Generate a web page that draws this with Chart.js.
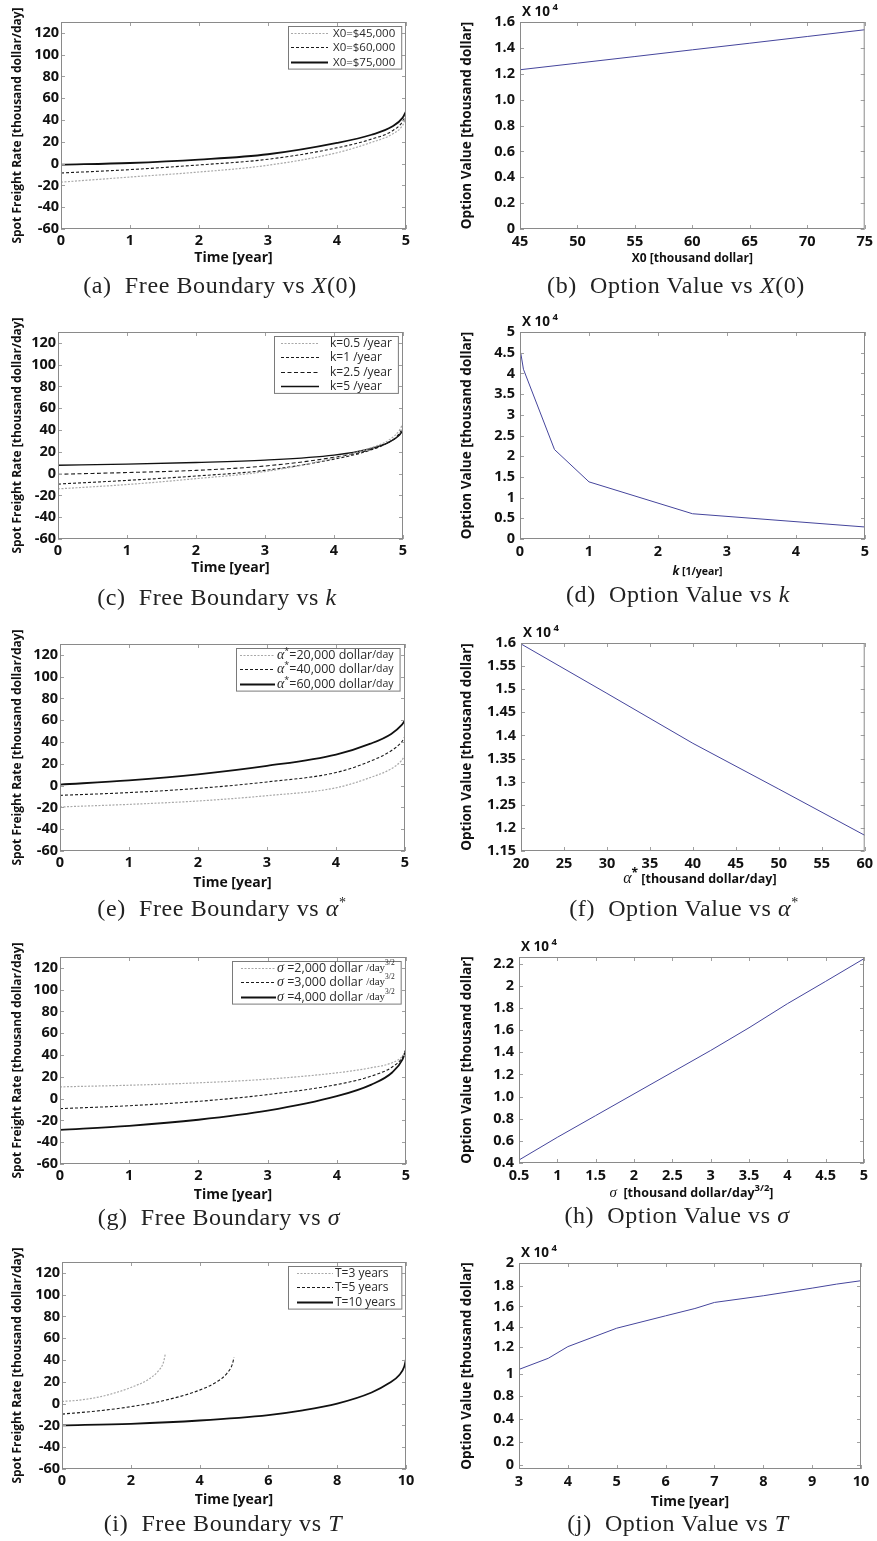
<!DOCTYPE html>
<html>
<head>
<meta charset="utf-8">
<script src="https://cdn.jsdelivr.net/npm/chart.js@4.4.0/dist/chart.umd.min.js"></script>
<style>
  body { margin: 0; background: #fff; width: 877px; height: 1541px; position: relative; overflow: hidden; }
  canvas { position: absolute; }
  .cap { position: absolute; font-family: "Liberation Serif", "DejaVu Serif", serif; font-size: 24px; letter-spacing: 0.6px; white-space: nowrap; transform: translate(-50%, -50%); color: #222; }
  .cap i { font-style: italic; }
  .cap sup { font-size: 14px; }
</style>
</head>
<body>
<script>
// ---------- data ----------
// (a) free boundary vs X(0)
const timeA = [0, 1, 2, 3, 4, 4.5, 4.8, 4.95, 5];
const fbX45 = [-17, -12.3, -7.7, -1.5, 10, 19.5, 27, 35, 42];
const fbX60 = [-8.6, -5.5, -1.2, 4, 14.5, 22.5, 30, 38.5, 45];
const fbX75 = [-1, 0.6, 3.7, 8.6, 19, 26.5, 34, 42, 48];

// (b) option value vs X(0)   (x 10^4)
const x0Vals = [45, 50, 55, 60, 65, 70, 75];
const optX0 = [1.231, 1.282, 1.333, 1.385, 1.436, 1.488, 1.54];

// (c) free boundary vs k
const timeC = [0, 1, 2, 3, 4, 4.5, 4.8, 4.95, 5];
const fbK05 = [-14, -10, -4.6, 1.9, 14.2, 23, 31, 40, 46];
const fbK1 = [-9.6, -6.2, -2.2, 3, 13.3, 21, 29, 37, 43];
const fbK25 = [-0.6, 1, 3, 7, 15, 21.5, 29, 36, 41];
const fbK5 = [7.7, 8.7, 10.2, 12.4, 17, 22.5, 29, 35.5, 40];

// (d) option value vs k
const kVals = [0.01, 0.05, 0.5, 1, 2.5, 5];
const optK = [4.5, 4.1, 2.16, 1.38, 0.61, 0.29];

// (e) free boundary vs alpha*
const timeE = [0, 1, 2, 3, 4, 4.5, 4.8, 4.95, 5];
const fbA20 = [-19.6, -17.2, -14.1, -9.2, -2, 7.5, 15.5, 23, 28];
const fbA40 = [-8.9, -6.4, -2.5, 3.4, 12, 22.5, 32, 40, 45];
const fbA60 = [0.9, 4.9, 10.4, 18.1, 28.5, 38.5, 47.5, 55.5, 60];

// (f) option value vs alpha*
const alphaVals = [20, 30, 40, 50, 60];
const optAlpha = [1.598, 1.491, 1.383, 1.284, 1.184];

// (g) free boundary vs sigma
const timeG = [0, 1, 2, 3, 4, 4.5, 4.8, 4.95, 5];
const fbS2 = [10.8, 12.3, 14.5, 17.9, 23.7, 28.4, 33, 39, 44];
const fbS3 = [-9.2, -6.5, -2.5, 3.7, 12.9, 20.7, 29, 38, 45];
const fbS4 = [-28.7, -25, -19.4, -11.1, 2.2, 12.9, 24, 36, 45];

// (h) option value vs sigma
const sigmaVals = [0.5, 1, 1.5, 2, 2.5, 3, 3.5, 4, 4.5, 5];
const optSigma = [0.427, 0.632, 0.828, 1.024, 1.22, 1.416, 1.621, 1.838, 2.04, 2.245];

// (i) free boundary vs T
const timeT3 = [0, 0.5, 1, 1.5, 2, 2.5, 2.8, 2.95, 3];
const fbT3 = [2, 3.2, 5.6, 9.5, 14.8, 22, 30, 38, 45];
const timeT5 = [0, 1, 2, 3, 4, 4.5, 4.8, 4.95, 5];
const fbT5 = [-9.6, -6.8, -2.8, 3.1, 12.4, 20, 28, 36, 42.5];
const timeT10 = [0, 2, 4, 6, 7, 8, 9, 9.5, 9.8, 9.95, 10];
const fbT10 = [-20, -18.5, -15.5, -10.5, -6.2, 0, 10.2, 18.6, 26, 34, 41];

// (j) option value vs T
const tVals = [3, 3.6, 4, 5, 6, 6.6, 7, 8, 9, 9.5, 10];
const optT = [0.967, 1.075, 1.188, 1.367, 1.487, 1.558, 1.617, 1.682, 1.756, 1.795, 1.828];

// ---------- tick values and labels ----------
const fbYTicks = [-60, -40, -20, 0, 20, 40, 60, 80, 100, 120];
const fbXTicks = [0, 1, 2, 3, 4, 5];
const tXTicks = [0, 2, 4, 6, 8, 10];
const bYTicks = [0, 0.2, 0.4, 0.6, 0.8, 1.0, 1.2, 1.4, 1.6];
const bYLabels = ['0', '0.2', '0.4', '0.6', '0.8', '1.0', '1.2', '1.4', '1.6'];
const bXTicks = [45, 50, 55, 60, 65, 70, 75];
const dYTicks = [0, 0.5, 1, 1.5, 2, 2.5, 3, 3.5, 4, 4.5, 5];
const dXTicks = [0, 1, 2, 3, 4, 5];
const fYTicks = [1.15, 1.2, 1.25, 1.3, 1.35, 1.4, 1.45, 1.5, 1.55, 1.6];
const fYLabels = ['1.15', '1.2', '1.25', '1.3', '1.35', '1.4', '1.45', '1.5', '1.55', '1.6'];
const fXTicks = [20, 25, 30, 35, 40, 45, 50, 55, 60];
const hYTicks = [0.4, 0.6, 0.8, 1.0, 1.2, 1.4, 1.6, 1.8, 2.0, 2.2];
const hYLabels = ['0.4', '0.6', '0.8', '1.0', '1.2', '1.4', '1.6', '1.8', '2', '2.2'];
const hXTicks = [0.5, 1, 1.5, 2, 2.5, 3, 3.5, 4, 4.5, 5];
const jYTicks = [0.042, 0.263, 0.49, 0.711, 0.922, 1.182, 1.383, 1.578, 1.779, 2.0];
const jYLabels = ['0', '0.2', '0.4', '0.8', '1', '1.2', '1.4', '1.6', '1.8', '2'];
const jXTicks = [3, 4, 5, 6, 7, 8, 9, 10];

// ---------- styles ----------
const SANS = '"Open Sans", "Noto Sans", sans-serif';
const SERIF = '"Liberation Serif", "DejaVu Serif", serif';
const dotted = { borderColor: '#a9a9a9', borderWidth: 1.2, borderDash: [2, 1.5] };
const dashed = { borderColor: '#1a1a1a', borderWidth: 1.1, borderDash: [3, 2] };
const dashedLong = { borderColor: '#1a1a1a', borderWidth: 1.1, borderDash: [4, 2.5] };
const solid = { borderColor: '#111', borderWidth: 1.8, borderDash: [] };
const solidThin = { borderColor: '#111', borderWidth: 1.4, borderDash: [] };
const blue = { borderColor: '#45459c', borderWidth: 1, borderDash: [] };

function series(xs, ys, style, smooth) {
  return Object.assign({
    data: xs.map((x, i) => ({ x: x, y: ys[i] })),
    fill: false,
    pointRadius: 0,
    tension: smooth ? 0.4 : 0,
    cubicInterpolationMode: smooth ? 'monotone' : 'default'
  }, style);
}

function plain(txt, size) {
  return [{ t: txt, f: (size || 11.5) + 'px ' + SANS }];
}

function richWidth(ctx, segs) {
  let w = 0;
  segs.forEach(s => { ctx.font = s.f; w += ctx.measureText(s.t).width; });
  return w;
}
function drawRich(ctx, segs, x, y) {
  segs.forEach(s => {
    ctx.font = s.f;
    ctx.fillText(s.t, x, y + (s.dy || 0));
    x += ctx.measureText(s.t).width;
  });
}

// frame, inward ticks, x10^4 note, rich titles and the boxed legend
const framePlugin = {
  id: 'frame',
  afterDraw(chart, args, o) {
    const ctx = chart.ctx, a = chart.chartArea;
    const xs = chart.scales.x, ys = chart.scales.y;
    ctx.save();
    ctx.strokeStyle = '#a0a0a0';
    ctx.lineWidth = 1;
    ctx.beginPath();
    xs.ticks.forEach(t => {
      const p = Math.round(xs.getPixelForValue(t.value)) + 0.5;
      ctx.moveTo(p, a.bottom); ctx.lineTo(p, a.bottom - 4);
      ctx.moveTo(p, a.top); ctx.lineTo(p, a.top + 4);
    });
    ys.ticks.forEach(t => {
      const p = Math.round(ys.getPixelForValue(t.value)) + 0.5;
      ctx.moveTo(a.left, p); ctx.lineTo(a.left + 4, p);
      ctx.moveTo(a.right, p); ctx.lineTo(a.right - 4, p);
    });
    ctx.stroke();
    ctx.strokeStyle = '#8a8a8a';
    ctx.strokeRect(a.left + 0.5, a.top + 0.5, a.right - a.left - 1, a.bottom - a.top - 1);

    ctx.fillStyle = '#111';
    ctx.textBaseline = 'alphabetic';
    if (o.exponent) {
      drawRich(ctx, [
        { t: 'X 10', f: 'bold 13.5px ' + SANS },
        { t: ' 4', f: 'bold 9.5px ' + SANS, dy: -6 }
      ], a.left + 2, a.top - 6);
    }
    if (o.richTitle) {
      const w = richWidth(ctx, o.richTitle.segs);
      ctx.textBaseline = 'middle';
      drawRich(ctx, o.richTitle.segs, (a.left + a.right) / 2 - w / 2 + (o.richTitle.shift || 0), a.bottom + o.richTitle.dy);
    }
    if (o.legend) {
      const L = o.legend, dss = chart.data.datasets;
      const tw = Math.max.apply(null, L.labels.map(s => richWidth(ctx, s)));
      const rowH = 14.3;
      const w = L.padL + L.sample + L.gap + tw + 6;
      const h = 14 + (dss.length - 1) * rowH;
      const x0 = Math.round(a.right - 5 - w), y0 = a.top + 4;
      ctx.fillStyle = '#fff';
      ctx.fillRect(x0, y0, w, h);
      ctx.strokeStyle = '#7a7a7a';
      ctx.lineWidth = 1;
      ctx.strokeRect(x0 + 0.5, y0 + 0.5, w, h);
      dss.forEach((ds, i) => {
        const cy = Math.round(y0 + 7 + i * rowH) + 0.5;
        ctx.setLineDash(ds.borderDash || []);
        ctx.strokeStyle = ds.borderColor;
        ctx.lineWidth = ds.borderWidth;
        ctx.beginPath();
        ctx.moveTo(x0 + L.padL, cy);
        ctx.lineTo(x0 + L.padL + L.sample, cy);
        ctx.stroke();
        ctx.setLineDash([]);
        ctx.fillStyle = '#2a2a2a';
        ctx.textBaseline = 'middle';
        drawRich(ctx, L.labels[i], x0 + L.padL + L.sample + L.gap, cy);
      });
    }
    ctx.restore();
  }
};

// ---------- one panel = one chart ----------
function panel(box, area, cfg) {
  const cv = document.createElement('canvas');
  cv.width = box.w; cv.height = box.h;
  cv.style.left = box.x + 'px'; cv.style.top = box.y + 'px';
  document.body.appendChild(cv);
  const bottomH = box.y + box.h - area.b;
  const tickFont = { family: SANS, size: 14.5, weight: 'bold' };

  let xTitle = { display: false };
  if (cfg.xTitle) {
    const lh = cfg.xTitle.size * 1.2;
    xTitle = {
      display: true, text: cfg.xTitle.text, color: '#111',
      font: { family: SANS, size: cfg.xTitle.size, weight: 'bold' },
      padding: { top: 0, bottom: bottomH - cfg.xTitle.dy - lh / 2 }
    };
  }
  const ylh = cfg.yTitle.size * 1.2;
  const yTitle = {
    display: true, text: cfg.yTitle.text, color: '#111',
    font: { family: SANS, size: cfg.yTitle.size, weight: 'bold' },
    padding: { top: cfg.yTitle.cx - ylh / 2, bottom: 0 }
  };

  new Chart(cv, {
    type: 'line',
    data: { datasets: cfg.datasets },
    options: {
      responsive: false,
      animation: false,
      events: [],
      layout: { padding: { left: 0, top: area.t - box.y, right: box.x + box.w - area.r, bottom: 0 } },
      plugins: {
        legend: { display: false },
        tooltip: { enabled: false },
        frame: cfg.frame || {}
      },
      scales: {
        x: {
          type: 'linear', min: cfg.xMin, max: cfg.xMax,
          afterFit: s => { s.height = bottomH; },
          afterBuildTicks: s => { s.ticks = cfg.xTicks.map(v => ({ value: v })); },
          ticks: {
            autoSkip: false, maxRotation: 0, padding: cfg.xPad, color: '#111', font: tickFont,
            callback: (v, i) => cfg.xLabels ? cfg.xLabels[i] : String(v)
          },
          grid: { display: false, drawTicks: false },
          border: { display: false },
          title: xTitle
        },
        y: {
          type: 'linear', min: cfg.yMin, max: cfg.yMax,
          afterFit: s => { s.width = area.l - box.x; },
          afterBuildTicks: s => { s.ticks = cfg.yTicks.map(v => ({ value: v })); },
          ticks: {
            autoSkip: false, padding: cfg.yPad, color: '#111', font: tickFont,
            callback: (v, i) => cfg.yLabels ? cfg.yLabels[i] : String(v)
          },
          grid: { display: false, drawTicks: false },
          border: { display: false },
          title: yTitle
        }
      }
    },
    plugins: [framePlugin]
  });
}

function caption(html, x, y) {
  const d = document.createElement('div');
  d.className = 'cap';
  d.innerHTML = html;
  d.style.left = x + 'px';
  d.style.top = y + 'px';
  document.body.appendChild(d);
}

const fbYTitle = { text: 'Spot Freight Rate [thousand dollar/day]', size: 12, cx: 18 };
const ovYTitle = { text: 'Option Value [thousand dollar]', size: 13.5, cx: 27 };
const timeTitle = dy => ({ text: 'Time [year]', size: 14, dy: dy });

function leftPanel(rowY, area, datasets, legend, xTicks, xMax, titleDy) {
  panel({ x: 0, y: rowY, w: 420, h: area.b + 45 - rowY }, area, {
    datasets: datasets, xMin: 0, xMax: xMax, yMin: -60, yMax: 130,
    xTicks: xTicks, yTicks: fbYTicks, xPad: 3, yPad: 2,
    xTitle: timeTitle(titleDy), yTitle: fbYTitle,
    frame: { legend: legend }
  });
}
function rightPanel(rowY, area, cfg) {
  panel({ x: 440, y: rowY, w: 437, h: area.b + 45 - rowY }, area, Object.assign({
    xPad: 4, yPad: 5, yTitle: ovYTitle
  }, cfg));
}

// (a)
leftPanel(0, { l: 61, t: 22, r: 406, b: 229 }, [
  series(timeA, fbX45, dotted, true),
  series(timeA, fbX60, dashed, true),
  series(timeA, fbX75, solid, true)
], { padL: 3, sample: 37, gap: 5, labels: [plain('X0=$45,000'), plain('X0=$60,000'), plain('X0=$75,000')] },
fbXTicks, 5, 29);

// (b)
rightPanel(0, { l: 520, t: 22, r: 865, b: 229 }, {
  datasets: [series(x0Vals, optX0, blue, false)],
  xMin: 45, xMax: 75, yMin: 0, yMax: 1.6,
  xTicks: bXTicks, yTicks: bYTicks, yLabels: bYLabels,
  xTitle: { text: 'X0 [thousand dollar]', size: 12, dy: 30 },
  frame: { exponent: true }
});

// (c)
leftPanel(305, { l: 58, t: 332, r: 403, b: 539 }, [
  series(timeC, fbK05, dotted, true),
  series(timeC, fbK1, dashed, true),
  series(timeC, fbK25, dashedLong, true),
  series(timeC, fbK5, solidThin, true)
], { padL: 7, sample: 38, gap: 11, labels: [plain('k=0.5 /year', 12), plain('k=1 /year', 12), plain('k=2.5 /year', 12), plain('k=5 /year', 12)] },
fbXTicks, 5, 29);

// (d)
rightPanel(305, { l: 520, t: 332, r: 865, b: 539 }, {
  datasets: [series(kVals, optK, blue, false)],
  xMin: 0, xMax: 5, yMin: 0, yMax: 5,
  xTicks: dXTicks, yTicks: dYTicks,
  frame: {
    exponent: true,
    richTitle: { dy: 33, shift: 5, segs: [
      { t: 'k', f: 'italic bold 12px ' + SANS },
      { t: ' [1/year]', f: 'bold 10.5px ' + SANS }
    ] }
  }
});

// (e)
const alphaLabel = v => [
  { t: 'α', f: 'italic 14px ' + SERIF },
  { t: '*', f: '9px ' + SANS, dy: -4 },
  { t: '=' + v + ' dollar', f: '12.5px ' + SANS },
  { t: '/day', f: '10.5px ' + SANS }
];
leftPanel(615, { l: 60, t: 644, r: 405, b: 851 }, [
  series(timeE, fbA20, dotted, true),
  series(timeE, fbA40, dashed, true),
  series(timeE, fbA60, solid, true)
], { padL: 4, sample: 35, gap: 2, labels: [alphaLabel('20,000'), alphaLabel('40,000'), alphaLabel('60,000')] },
fbXTicks, 5, 32);

// (f)
rightPanel(615, { l: 521, t: 643, r: 865, b: 851 }, {
  datasets: [series(alphaVals, optAlpha, blue, false)],
  xMin: 20, xMax: 60, yMin: 1.15, yMax: 1.6,
  xTicks: fXTicks, yTicks: fYTicks, yLabels: fYLabels,
  frame: {
    exponent: true,
    richTitle: { dy: 28, shift: 7, segs: [
      { t: 'α', f: 'italic 16px ' + SERIF },
      { t: '*', f: 'bold 12px ' + SANS, dy: -5 },
      { t: ' [thousand dollar/day]', f: 'bold 12.5px ' + SANS }
    ] }
  }
});

// (g)
const sigmaLabel = v => [
  { t: 'σ', f: 'italic 14px ' + SERIF },
  { t: ' =' + v + ' dollar ', f: '12.5px ' + SANS },
  { t: '/day', f: '11px ' + SERIF },
  { t: '3/2', f: '7.5px ' + SERIF, dy: -5 }
];
leftPanel(925, { l: 60, t: 957, r: 406, b: 1164 }, [
  series(timeG, fbS2, dotted, true),
  series(timeG, fbS3, dashed, true),
  series(timeG, fbS4, solid, true)
], { padL: 9, sample: 35, gap: 1, labels: [sigmaLabel('2,000'), sigmaLabel('3,000'), sigmaLabel('4,000')] },
fbXTicks, 5, 31);

// (h)
rightPanel(925, { l: 519, t: 957, r: 864, b: 1163 }, {
  datasets: [series(sigmaVals, optSigma, blue, false)],
  xMin: 0.5, xMax: 5, yMin: 0.4, yMax: 2.26,
  xTicks: hXTicks, yTicks: hYTicks, yLabels: hYLabels,
  frame: {
    exponent: true,
    richTitle: { dy: 30, shift: 0, segs: [
      { t: 'σ', f: 'italic 15px ' + SERIF },
      { t: '  [thousand dollar/day', f: 'bold 12.5px ' + SANS },
      { t: '3/2', f: 'bold 9.5px ' + SANS, dy: -5 },
      { t: ']', f: 'bold 12.5px ' + SANS }
    ] }
  }
});

// (i)
leftPanel(1235, { l: 62, t: 1262, r: 406, b: 1469 }, [
  series(timeT3, fbT3, dotted, true),
  series(timeT5, fbT5, dashed, true),
  series(timeT10, fbT10, solid, true)
], { padL: 9, sample: 36, gap: 2, labels: [plain('T=3 years', 12), plain('T=5 years', 12), plain('T=10 years', 12)] },
tXTicks, 10, 31);

// (j)
rightPanel(1235, { l: 519, t: 1263, r: 861, b: 1469 }, {
  datasets: [series(tVals, optT, blue, false)],
  xMin: 3, xMax: 10, yMin: 0, yMax: 2,
  xTicks: jXTicks, yTicks: jYTicks, yLabels: jYLabels,
  xTitle: timeTitle(33),
  frame: { exponent: true }
});

// captions under each panel
caption('(a)&nbsp; Free Boundary vs <i>X</i>(0)', 220, 285);
caption('(b)&nbsp; Option Value vs <i>X</i>(0)', 676, 285);
caption('(c)&nbsp; Free Boundary vs <i>k</i>', 217, 597);
caption('(d)&nbsp; Option Value vs <i>k</i>', 678, 594);
caption('(e)&nbsp; Free Boundary vs <i>α</i><sup>*</sup>', 222, 908);
caption('(f)&nbsp; Option Value vs <i>α</i><sup>*</sup>', 684, 908);
caption('(g)&nbsp; Free Boundary vs <i>σ</i>', 219, 1217);
caption('(h)&nbsp; Option Value vs <i>σ</i>', 677, 1215);
caption('(i)&nbsp; Free Boundary vs <i>T</i>', 223, 1523);
caption('(j)&nbsp; Option Value vs <i>T</i>', 678, 1523);
</script>
</body>
</html>
